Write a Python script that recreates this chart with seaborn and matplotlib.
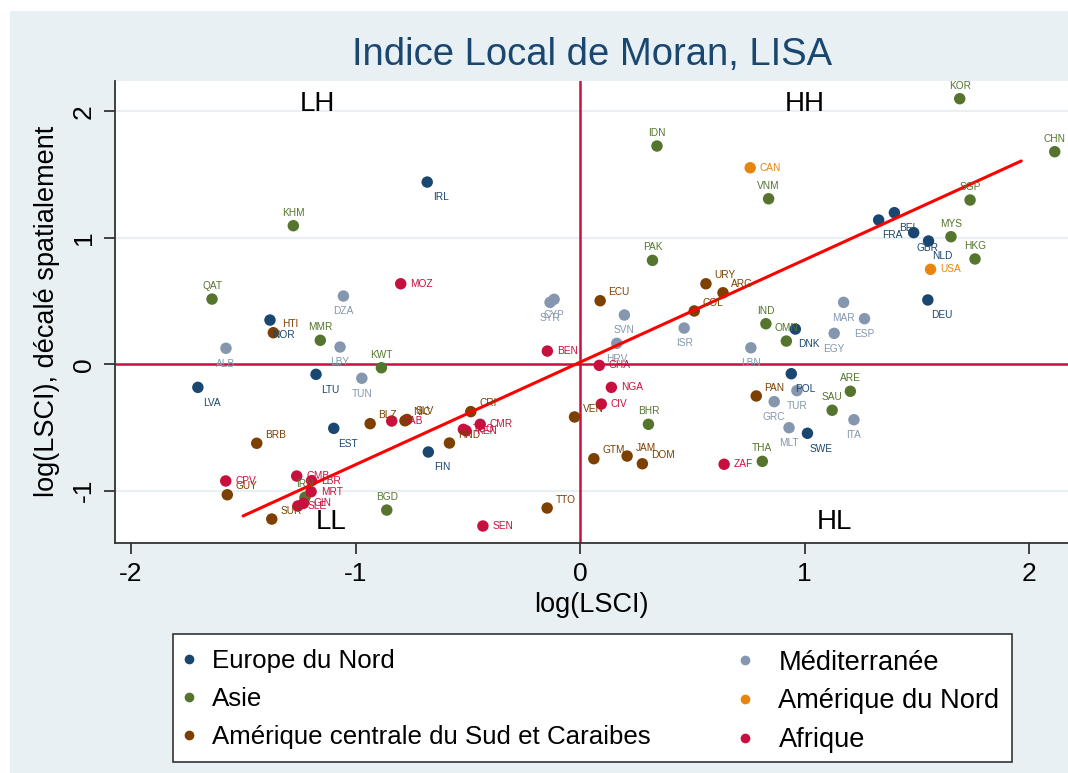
import matplotlib
matplotlib.use("Agg")
import matplotlib.pyplot as plt
from matplotlib.patches import Rectangle
from matplotlib.lines import Line2D
import seaborn as sns
import pandas as pd

# --- data: log(LSCI) and its spatial lag, by country and region ---
europe_codes = ["IRL", "NOR", "LTU", "LVA", "EST", "FIN", "FRA", "BEL", "GBR",
                "NLD", "DEU", "DNK", "POL", "SWE"]
europe_x = [-0.681, -1.381, -1.176, -1.702, -1.097, -0.676, 1.329, 1.399, 1.485,
            1.551, 1.548, 0.958, 0.940, 1.012]
europe_y = [1.440, 0.349, -0.080, -0.183, -0.507, -0.694, 1.140, 1.198, 1.040,
            0.974, 0.508, 0.278, -0.075, -0.546]

asie_codes = ["KOR", "CHN", "IDN", "VNM", "SGP", "KHM", "MYS", "HKG", "PAK", "QAT",
              "IND", "OMN", "MMR", "KWT", "ARE", "SAU", "BHR", "THA", "IRN", "BGD"]
asie_x = [1.690, 2.113, 0.342, 0.839, 1.736, -1.277, 1.651, 1.758, 0.322, -1.639,
          0.827, 0.918, -1.157, -0.885, 1.203, 1.122, 0.304, 0.811, -1.225, -0.861]
asie_y = [2.099, 1.680, 1.725, 1.308, 1.298, 1.095, 1.008, 0.832, 0.821, 0.515,
          0.320, 0.183, 0.189, -0.028, -0.214, -0.364, -0.475, -0.768, -1.052, -1.153]

med_codes = ["DZA", "CYP", "SYR", "MAR", "SVN", "ESP", "ISR", "EGY", "LBY", "ALB",
             "HRV", "LBN", "TUN", "TUR", "GRC", "ITA", "MLT"]
med_x = [-1.054, -0.116, -0.134, 1.173, 0.197, 1.266, 0.463, 1.131, -1.069, -1.577,
         0.163, 0.760, -0.972, 0.965, 0.864, 1.219, 0.930]
med_y = [0.539, 0.513, 0.489, 0.489, 0.389, 0.360, 0.286, 0.244, 0.136, 0.126,
         0.165, 0.130, -0.111, -0.209, -0.296, -0.439, -0.502]

amn_codes = ["CAN", "USA"]
amn_x = [0.757, 1.560]
amn_y = [1.553, 0.750]

amc_codes = ["ECU", "URY", "ARG", "COL", "HTI", "PAN", "CRI", "VEN", "BLZ", "NIC",
             "SLV", "BRB", "HND", "GTM", "JAM", "DOM", "GUY", "SUR", "TTO"]
amc_x = [0.089, 0.560, 0.636, 0.508, -1.366, 0.784, -0.487, -0.025, -0.935, -0.780,
         -0.771, -1.440, -0.582, 0.061, 0.209, 0.277, -1.571, -1.373, -0.147]
amc_y = [0.502, 0.636, 0.565, 0.421, 0.249, -0.251, -0.375, -0.417, -0.470, -0.447,
         -0.437, -0.625, -0.623, -0.747, -0.726, -0.787, -1.032, -1.224, -1.137]

afr_codes = ["MOZ", "BEN", "GHA", "NGA", "CIV", "GAB", "TGO", "KEN", "CMR", "ZAF",
             "CPV", "GMB", "LBR", "MRT", "SLE", "GIN", "SEN"]
afr_x = [-0.799, -0.146, 0.085, 0.139, 0.094, -0.839, -0.520, -0.508, -0.445, 0.641,
         -1.578, -1.262, -1.196, -1.198, -1.257, -1.232, -0.433]
afr_y = [0.636, 0.104, -0.009, -0.183, -0.315, -0.449, -0.515, -0.526, -0.475, -0.791,
         -0.923, -0.884, -0.921, -1.008, -1.121, -1.100, -1.279]

# fitted line (Moran scatterplot slope)
fit_x = [-1.501, 1.964]
fit_slope = 0.810
fit_intercept = 0.016

regions = ["Europe du Nord", "Asie", "Amérique centrale du Sud et Caraibes",
           "Méditerranée", "Amérique du Nord", "Afrique"]
colors = {
    "Europe du Nord": "#1A476F",
    "Asie": "#55752F",
    "Amérique centrale du Sud et Caraibes": "#7D4000",
    "Méditerranée": "#8497AE",
    "Amérique du Nord": "#E8850F",
    "Afrique": "#C8103E",
}
# label placement per region: (dx, dy) in points, horizontal alignment
label_pos = {
    "Europe du Nord": (10, -11, "center"),
    "Asie": (0, 9.5, "center"),
    "Amérique centrale du Sud et Caraibes": (6, 6, "left"),
    "Méditerranée": (0, -11, "center"),
    "Amérique du Nord": (7, 0, "left"),
    "Afrique": (7, 0, "left"),
}

frames = []
for reg, codes, xs, ys in [
    ("Europe du Nord", europe_codes, europe_x, europe_y),
    ("Asie", asie_codes, asie_x, asie_y),
    ("Méditerranée", med_codes, med_x, med_y),
    ("Amérique du Nord", amn_codes, amn_x, amn_y),
    ("Amérique centrale du Sud et Caraibes", amc_codes, amc_x, amc_y),
    ("Afrique", afr_codes, afr_x, afr_y),
]:
    frames.append(pd.DataFrame({"code": codes, "lsci": xs, "lag": ys, "region": reg}))
df = pd.concat(frames, ignore_index=True)

sns.set_theme(style="white")
plt.rcParams["font.family"] = ["Liberation Sans", "DejaVu Sans"]
plt.rcParams["axes.unicode_minus"] = False
plt.rcParams["text.color"] = "black"
plt.rcParams["axes.labelcolor"] = "black"
plt.rcParams["xtick.color"] = "black"
plt.rcParams["ytick.color"] = "black"

W, H = 1068, 773
fig = plt.figure(figsize=(W / 100, H / 100), dpi=100)
fig.patch.set_facecolor("white")
bg = "#E9F0F3"
fig.patches.append(Rectangle((10 / W, 0), 1 - 10 / W, 1 - 11 / H,
                             transform=fig.transFigure, facecolor=bg,
                             edgecolor="none", zorder=-5))

ax = fig.add_axes([115 / W, 1 - 542.7 / H, (W - 115) / W, (542.7 - 81) / H])
ax.set_zorder(2)
ax.set_facecolor("white")
ax.set_xlim(-2.071, 2.172)
ax.set_ylim(-1.411, 2.239)

# horizontal grid
for gy in [-1, 1, 2]:
    ax.axhline(gy, color=bg, lw=1.6, zorder=0)

# reference lines at zero
ax.axhline(0, color="#C8103E", lw=1.8, zorder=1)
ax.axvline(0, color="#C8103E", lw=1.8, zorder=1)

sns.scatterplot(data=df, x="lsci", y="lag", hue="region", hue_order=regions,
                palette=colors, s=68, edgecolor="none", linewidth=0, alpha=1,
                legend=False, ax=ax, zorder=3)

fit_y = [fit_intercept + fit_slope * v for v in fit_x]
sns.lineplot(x=fit_x, y=fit_y, color="#FF0000", lw=2.2, ax=ax, zorder=4)

for _, r in df.iterrows():
    dx, dy, ha = label_pos[r["region"]]
    ax.annotate(r["code"], (r["lsci"], r["lag"]), xytext=(dx, dy),
                textcoords="offset points", ha=ha, va="center",
                fontsize=7.3, color=colors[r["region"]], zorder=5)

# quadrant labels
for txt, qx, qy in [("LH", -1.17, 2.06), ("HH", 1.0, 2.06),
                    ("LL", -1.11, -1.25), ("HL", 1.13, -1.25)]:
    ax.text(qx, qy, txt, fontsize=20, color="black", ha="center", va="center")

for s in ["top", "right"]:
    ax.spines[s].set_visible(False)
for s in ["left", "bottom"]:
    ax.spines[s].set_color("#333333")
    ax.spines[s].set_linewidth(1.3)

ax.set_xticks([-2, -1, 0, 1, 2])
ax.set_yticks([-1, 0, 1, 2])
ax.set_xticklabels(["-2", "-1", "0", "1", "2"])
ax.set_yticklabels(["-1", "0", "1", "2"], rotation=90, va="center")
ax.tick_params(axis="both", direction="out", length=8, width=1.3, color="#333333",
               labelsize=19, pad=6, left=True, bottom=True)
ax.set_xlabel("log(LSCI)", fontsize=19.5, labelpad=4)
ax.set_ylabel("log(LSCI), décalé spatialement", fontsize=19.5, labelpad=8)

fig.text(592 / W, 1 - 55 / H, "Indice Local de Moran, LISA", fontsize=27.5,
         color="#1A476F", ha="center", va="center")

# legend: framed box holding two columns
fig.patches.append(Rectangle((173 / W, 1 - 762 / H), (1012 - 173) / W, (762 - 634) / H,
                             transform=fig.transFigure, facecolor="white",
                             edgecolor="#333333", linewidth=1.2, zorder=1))


def column_legend(names, x_left, y_mid, textpad, size, spacing):
    hs = [Line2D([0], [0], marker="o", linestyle="none", markersize=7,
                 markerfacecolor=colors[n], markeredgecolor="none") for n in names]
    lg = fig.legend(hs, names, loc="center left",
                    bbox_to_anchor=(x_left / W, 1 - y_mid / H), ncol=1, fontsize=size,
                    frameon=False, handlelength=18.6 * 0.8 / size,
                    handletextpad=textpad * 18.6 / size,
                    labelspacing=spacing, borderpad=0, borderaxespad=0)
    lg.set_zorder(3)
    return lg


column_legend(regions[:3], 178.8, 699, 0.5, 18.6, 0.55)
column_legend(regions[3:], 734.8, 701.5, 0.89, 19.6, 0.47)

fig.savefig("out.png", dpi=100)
